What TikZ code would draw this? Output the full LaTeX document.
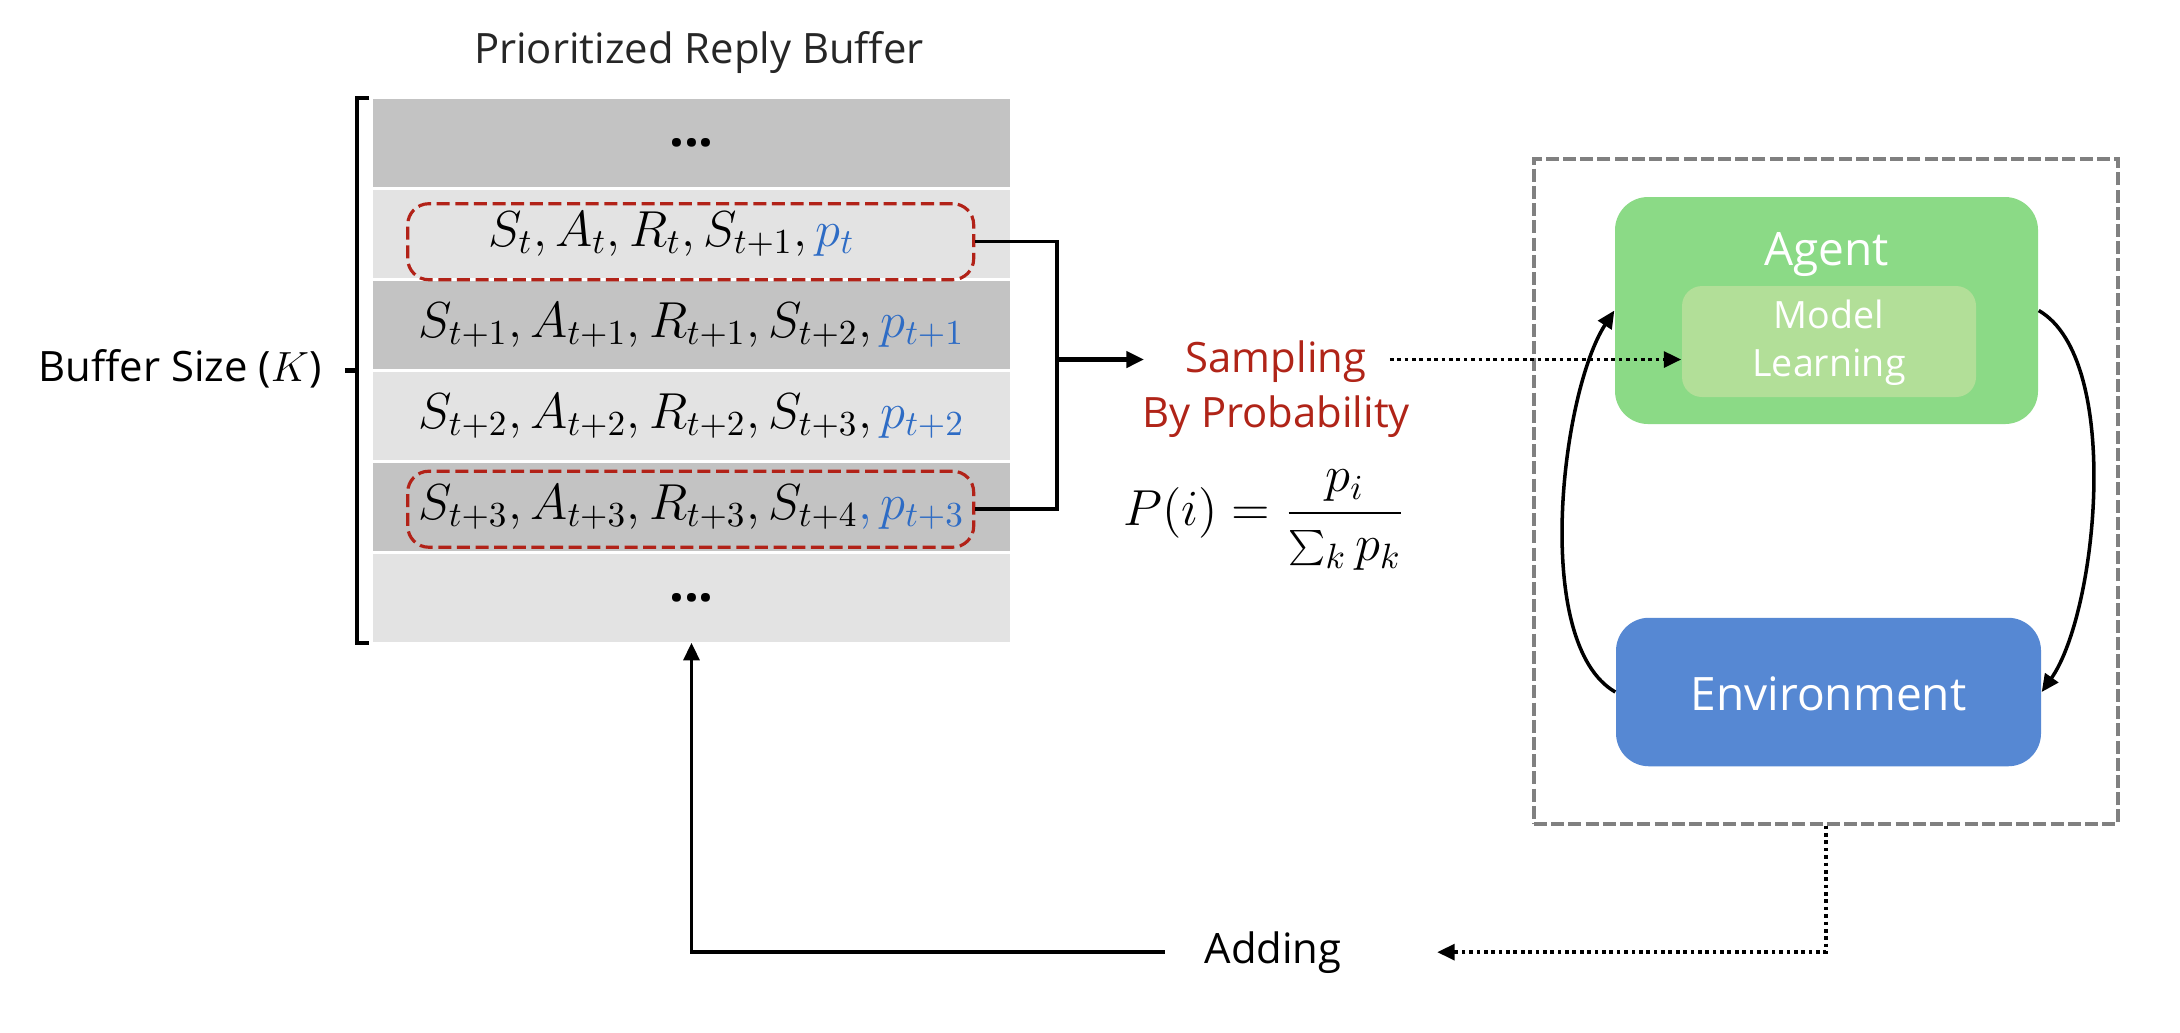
\documentclass[tikz,border=0pt]{standalone}
\usepackage{fontspec}
\setmainfont{Open Sans}
\usetikzlibrary{arrows.meta,calc}

\definecolor{rowdark}{RGB}{195,195,195}
\definecolor{rowlight}{RGB}{227,227,227}
\definecolor{pickred}{RGB}{178,34,24}
\definecolor{pblue}{RGB}{46,108,197}
\definecolor{sampred}{RGB}{176,36,24}
\definecolor{agentgreen}{RGB}{139,218,134}
\definecolor{modelgreen}{RGB}{178,223,152}
\definecolor{envblue}{RGB}{86,136,211}
\definecolor{loopgray}{RGB}{128,128,128}

\begin{document}
\begin{tikzpicture}[
    row/.style={minimum width=6.37cm, minimum height=0.88cm, inner sep=0pt, font=\fontsize{14.9}{17}\selectfont},
    pick/.style={draw=pickred, line width=0.9pt, dash pattern=on 3.7pt off 1.6pt, rounded corners=6pt, minimum width=5.66cm, minimum height=0.76cm},
    lbl/.style={inner sep=0pt, anchor=base, font=\fontsize{11.9}{14}\selectfont},
    box/.style={inner sep=0pt, rounded corners=0.33cm},
    inbox/.style={inner sep=0pt, anchor=base, text=white},
    dotline/.style={line width=1.05pt, dash pattern=on 1.05pt off 1.05pt},
    >={Triangle[length=5pt,width=4.5pt]}
]
    \useasboundingbox (0,0) rectangle (21.8,-10.32);

    \node[lbl, text=black!85] (title) at (6.99,-0.63) {Prioritized Reply Buffer};

    \node[row, fill=rowdark] (r0) at (6.915,-1.43) {\textbf{...}};
    \node[row, fill=rowlight] (r1) at (6.915,-2.34) {$S_t, A_t, R_t, S_{t+1}, \textcolor{pblue}{p_t}$\hspace*{0.4cm}};
    \node[row, fill=rowdark] (r2) at (6.915,-3.25) {$S_{t+1}, A_{t+1}, R_{t+1}, S_{t+2}, \textcolor{pblue}{p_{t+1}}$};
    \node[row, fill=rowlight] (r3) at (6.915,-4.16) {$S_{t+2}, A_{t+2}, R_{t+2}, S_{t+3}, \textcolor{pblue}{p_{t+2}}$};
    \node[row, fill=rowdark] (r4) at (6.915,-5.07) {$S_{t+3}, A_{t+3}, R_{t+3}, S_{t+4}\textcolor{pblue}{, p_{t+3}}$};
    \node[row, fill=rowlight] (r5) at (6.915,-5.98) {\textbf{...}};

    \node[pick] (sel1) at (6.907,-2.417) {};
    \node[pick] (sel4) at (6.907,-5.092) {};

    \draw[line width=1.2pt] ([xshift=-0.03cm]r0.north west) -- ++(-0.12,0) coordinate (btop) |- ([xshift=-0.03cm]r5.south west);
    \draw[line width=1.2pt] ($(btop)!0.5!(btop |- r5.south)$) -- ++(-0.12,0);
    \node[lbl] (bsize) at (1.80,-3.817) {Buffer Size ($K$)};

    \coordinate (join) at (10.57,-3.595);
    \draw[line width=1pt] (sel1.east) -| (join) |- (sel4.east);

    \node[lbl, text=sampred] (samp) at (12.76,-3.72) {Sampling};
    \node[lbl, text=sampred] (prob) at (12.76,-4.278) {By Probability};
    \draw[->, line width=1.3pt, shorten >=0.41cm] (join) -- (join -| samp.west);

    \node[inner sep=0pt, font=\fontsize{14.5}{17}\selectfont] (formula) at (12.645,-5.20) {$\displaystyle P(i) = \frac{p_i}{\sum_k p_k}$};

    \node[draw=loopgray, line width=0.9pt, dash pattern=on 3.7pt off 1.2pt, minimum width=5.84cm, minimum height=6.65cm] (loop) at (18.26,-4.915) {};

    \node[box, fill=agentgreen, minimum width=4.23cm, minimum height=2.27cm] (agent) at (18.265,-3.105) {};
    \node[inbox, font=\fontsize{13.1}{15}\selectfont] (agentlbl) at (18.265,-2.65) {Agent};
    \node[box, fill=modelgreen, rounded corners=0.2cm, minimum width=2.94cm, minimum height=1.11cm] (model) at (18.29,-3.415) {};
    \node[inbox, font=\fontsize{10.7}{13}\selectfont] (modeltop) at (18.29,-3.283) {Model};
    \node[inbox, font=\fontsize{10.7}{13}\selectfont] (modelbot) at (18.29,-3.767) {Learning};

    \node[box, fill=envblue, minimum width=4.25cm, minimum height=1.485cm] (env) at (18.285,-6.92) {};
    \node[inbox, font=\fontsize{13.1}{15}\selectfont] (envlbl) at (18.285,-7.10) {Environment};

    \draw[->, line width=1pt] (env.west) to[out=150, in=237, looseness=0.65] (agent.west);
    \draw[->, line width=1pt] (agent.east) to[out=-30, in=55, looseness=0.65] (env.east);

    \draw[dotline, ->, shorten <=0.23cm] (samp.east |- join) -- (join -| model.west);

    \node[lbl] (add) at (12.73,-9.63) {Adding};
    \draw[dotline, ->, shorten >=0.95cm] (loop.south) |- (add.east);
    \draw[->, line width=1pt, shorten <=0.39cm] (add.west) -| (r5.south);
\end{tikzpicture}
\end{document}
